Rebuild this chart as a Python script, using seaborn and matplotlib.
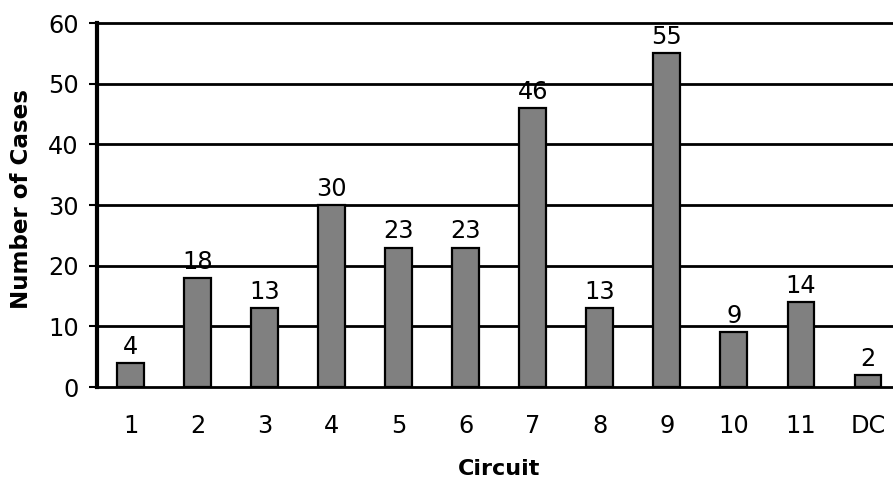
import matplotlib
matplotlib.use("Agg")
import matplotlib.pyplot as plt
import seaborn as sns
import pandas as pd

circuits = ["1", "2", "3", "4", "5", "6", "7", "8", "9", "10", "11", "DC"]
cases = [4, 18, 13, 30, 23, 23, 46, 13, 55, 9, 14, 2]
y_ticks = [0, 10, 20, 30, 40, 50, 60]

sns.set_theme(style="white")
plt.rcParams["font.family"] = ["DejaVu Sans"]

df = pd.DataFrame({"Circuit": circuits, "Cases": cases})

fig = plt.figure(figsize=(8.93, 4.82), dpi=100)
ax = fig.add_axes([0.1086, 0.197, 0.9009, 0.755])

for y in y_ticks:
    ax.axhline(y, color="black", lw=2.0, zorder=0.5, clip_on=False)

sns.barplot(data=df, x="Circuit", y="Cases", color="#808080", width=0.4,
            edgecolor="black", linewidth=1.6, saturation=1, ax=ax, zorder=2)

for i, v in enumerate(cases):
    ax.annotate(str(v), (i, v), xytext=(0, 3), textcoords="offset points",
                ha="center", va="bottom", fontsize=17.3, color="black")

ax.set_ylim(0, 60)
ax.set_xlim(-0.5, len(circuits) - 0.5)
ax.set_yticks(y_ticks)
ax.tick_params(axis="y", left=True, length=6, width=1.5, color="black",
               pad=7, labelsize=17.3, labelcolor="black")
ax.tick_params(axis="x", bottom=False, length=0, pad=19.5, labelsize=17.3,
               labelcolor="black")

for side in ["top", "right", "bottom"]:
    ax.spines[side].set_visible(False)
ax.spines["left"].set_color("black")
ax.spines["left"].set_linewidth(3)

ax.set_xlabel("Circuit", fontsize=16, fontweight="bold", color="black")
ax.set_ylabel("Number of Cases", fontsize=16.6, fontweight="bold", color="black")
ax.xaxis.set_label_coords(0.5, -0.198)
ax.yaxis.set_label_coords(-0.080, 0.518)

fig.savefig("out.png", dpi=100)
